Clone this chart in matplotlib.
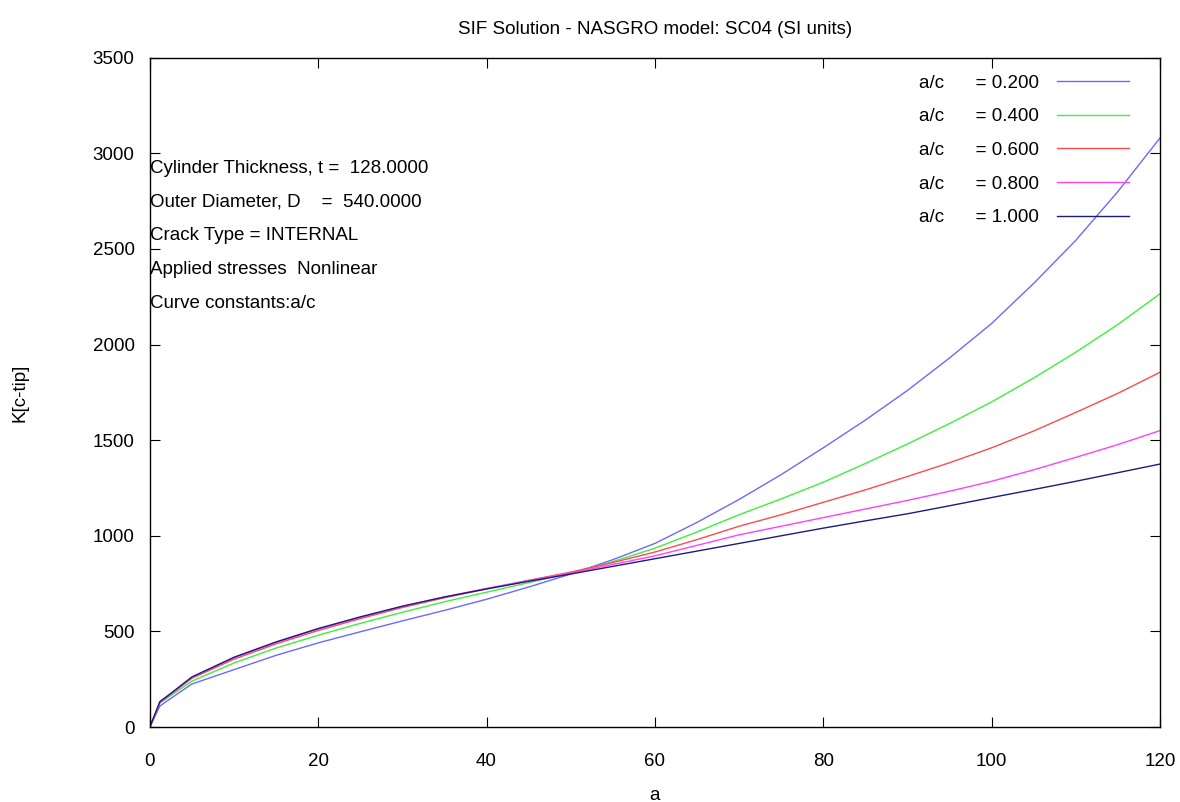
import numpy as np
import matplotlib
matplotlib.use('Agg')
import matplotlib.pyplot as plt

plt.rcParams['font.family'] = ['Liberation Sans', 'DejaVu Sans']

# crack depth a
a = [0, 1.2, 2.5, 5, 10, 15, 20, 25, 30, 35, 40, 45, 50, 55, 60, 65, 70,
     75, 80, 85, 90, 95, 100, 105, 110, 115, 120]

# K at c-tip for each a/c
k_02 = [0, 110, 150, 225, 300, 375, 440, 498, 555, 610, 668, 732, 800, 875,
        960, 1070, 1190, 1320, 1460, 1605, 1760, 1930, 2110, 2320, 2545, 2800, 3080]
k_04 = [0, 125, 165, 240, 335, 413, 480, 542, 600, 655, 705, 755, 805, 865,
        935, 1020, 1110, 1193, 1280, 1378, 1480, 1587, 1700, 1825, 1960, 2105, 2265]
k_06 = [0, 130, 172, 255, 355, 435, 505, 567, 625, 676, 722, 767, 810, 860,
        915, 980, 1050, 1110, 1175, 1240, 1310, 1382, 1460, 1548, 1645, 1745, 1855]
k_08 = [0, 132, 175, 260, 362, 442, 512, 573, 630, 680, 725, 766, 805, 850,
        895, 950, 1005, 1050, 1095, 1140, 1185, 1233, 1285, 1345, 1410, 1477, 1550]
k_10 = [0, 133, 176, 262, 365, 445, 515, 576, 632, 680, 722, 762, 800, 840,
        880, 920, 960, 1000, 1040, 1078, 1115, 1157, 1200, 1242, 1285, 1330, 1375]

labels = ['0.200', '0.400', '0.600', '0.800', '1.000']
colors = ['#6a6aff', '#3cf03c', '#ff4a4a', '#ff40ff', '#1c1c80']

notes = ['Cylinder Thickness, t =  128.0000',
         'Outer Diameter, D    =  540.0000',
         'Crack Type = INTERNAL',
         'Applied stresses  Nonlinear',
         'Curve constants:a/c']

fs = 13.5

fig = plt.figure(figsize=(11.8, 8.02), dpi=100)
ax = fig.add_axes([0.127, 0.0935, 0.856, 0.8345])

for k, lab, col in zip([k_02, k_04, k_06, k_08, k_10], labels, colors):
    ax.plot(a, k, color=col, lw=1.0, label='a/c      = ' + lab)

ax.set_xlim(0, 120)
ax.set_ylim(0, 3500)
ax.set_xticks(np.arange(0, 121, 20))
ax.set_yticks(np.arange(0, 3501, 500))
ax.tick_params(direction='in', top=True, right=True, length=7, labelsize=fs)
ax.tick_params(axis='x', pad=19)
ax.tick_params(axis='y', pad=11)
for s in ax.spines.values():
    s.set_linewidth(1.0)

ax.set_title('SIF Solution - NASGRO model: SC04 (SI units)', fontsize=fs, pad=17)
ax.set_xlabel('a', fontsize=fs, labelpad=12)
ax.set_ylabel('K[c-tip]', fontsize=fs, labelpad=46)

for i, t in enumerate(notes):
    ax.text(0.0, 0.835 - i * 0.0505, t, transform=ax.transAxes,
            fontsize=fs, va='center', ha='left')

leg = ax.legend(loc='upper right', frameon=False, markerfirst=False,
                fontsize=fs, handlelength=3.85, labelspacing=0.88,
                bbox_to_anchor=(0.986, 1.0), handletextpad=0.95)

fig.savefig('out.png', dpi=100)
